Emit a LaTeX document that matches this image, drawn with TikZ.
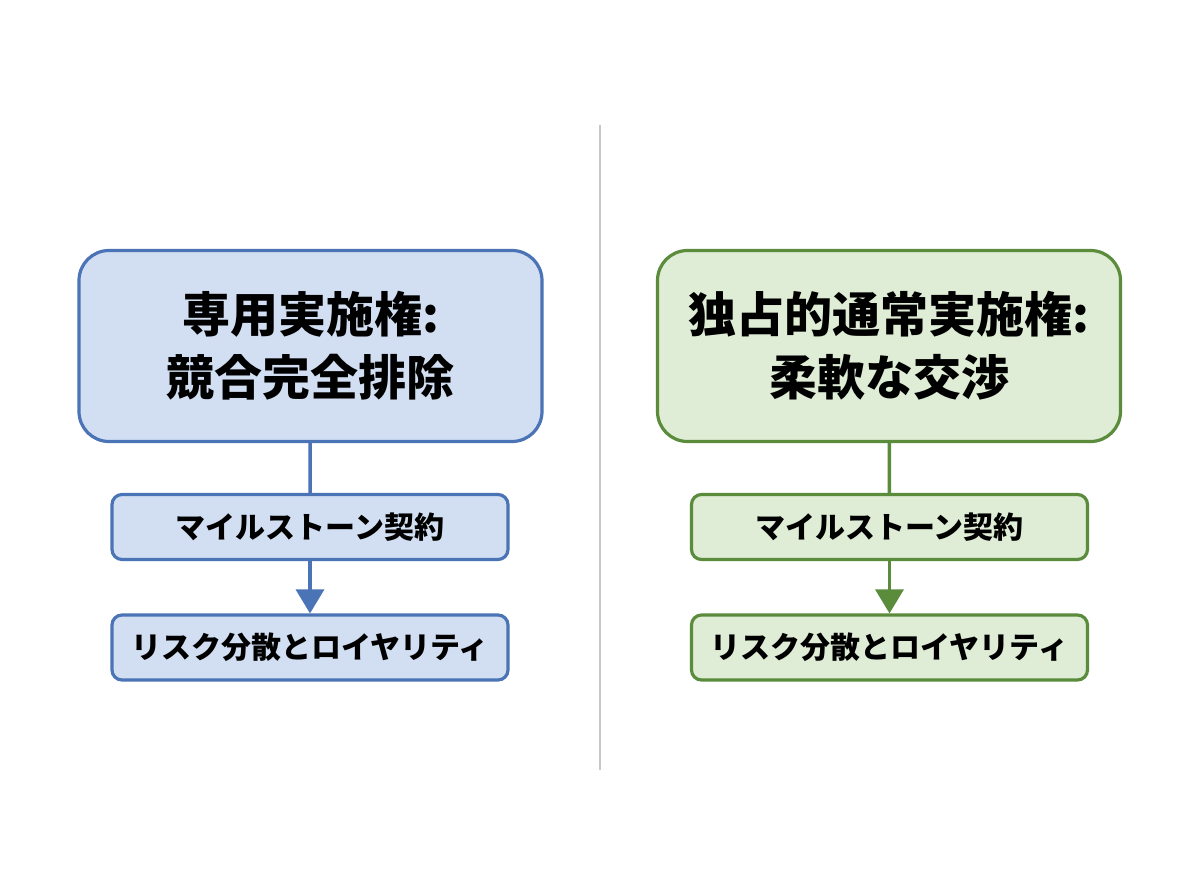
\documentclass[tikz,border=0pt]{standalone}
\usepackage{fontspec}
\newfontfamily\cjk{Noto Sans CJK JP}
\usetikzlibrary{arrows.meta}
\definecolor{bborder}{HTML}{4A74B6}
\definecolor{bfill}{HTML}{D2DFF2}
\definecolor{gborder}{HTML}{5A8C3C}
\definecolor{gfill}{HTML}{DFEDD6}
\definecolor{divider}{HTML}{C8C8C8}
\tikzset{
  bigbox/.style={rounded corners=30pt, line width=3.2pt, minimum width=463pt, minimum height=191pt, align=center, font=\cjk\bfseries\fontsize{48}{63}\selectfont, inner sep=0pt},
  smallbox/.style={rounded corners=10pt, line width=3.2pt, minimum width=396pt, minimum height=65pt, align=center, font=\cjk\bfseries\fontsize{30}{34}\selectfont, inner sep=0pt},
  conn/.style={line width=3.5pt},
  arr/.style={line width=3.5pt, -{Triangle[width=28pt,length=24pt]}},
}
\begin{document}
\begin{tikzpicture}[x=1pt,y=-1pt]
\useasboundingbox[fill=white] (0,0) rectangle (1200,896);
\draw[divider, line width=1.2pt] (600,125) -- (600,770);
% left
\node[bigbox, draw=bborder, fill=bfill] (lb) at (310.5,346) {専用実施権:\\競合完全排除};
\node[smallbox, draw=bborder, fill=bfill] (lm) at (310,527) {マイルストーン契約};
\node[smallbox, draw=bborder, fill=bfill] (lr) at (310,647.5) {リスク分散とロイヤリティ};
\draw[conn, bborder] (lb) -- (lm);
\draw[arr, bborder] (lm) -- (lr);
% right
\node[bigbox, draw=gborder, fill=gfill] (rb) at (889,346) {独占的通常実施権:\\柔軟な交渉};
\node[smallbox, draw=gborder, fill=gfill] (rm) at (889.5,527) {マイルストーン契約};
\node[smallbox, draw=gborder, fill=gfill] (rr) at (889.5,647.5) {リスク分散とロイヤリティ};
\draw[conn, gborder] (rb) -- (rm);
\draw[arr, gborder] (rm) -- (rr);
\end{tikzpicture}
\end{document}
